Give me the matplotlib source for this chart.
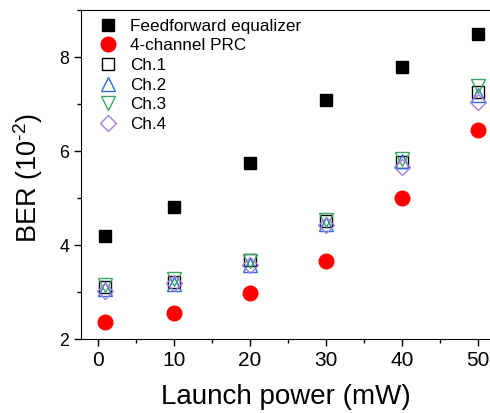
import matplotlib
matplotlib.use("Agg")
import matplotlib.pyplot as plt
from matplotlib.ticker import MultipleLocator

plt.rcParams['font.family'] = ['Liberation Sans', 'DejaVu Sans']
plt.rcParams['mathtext.fontset'] = 'custom'
plt.rcParams['mathtext.rm'] = 'Liberation Sans'

# ---------------- DATA ----------------
power = [1, 10, 20, 30, 40, 50]
ffe = [4.19, 4.80, 5.74, 7.08, 7.79, 8.48]
prc = [2.36, 2.56, 2.97, 3.66, 5.01, 6.45]
ch1 = [3.10, 3.22, 3.68, 4.52, 5.77, 7.26]
ch2 = [3.07, 3.18, 3.57, 4.45, 5.78, 7.20]
ch3 = [3.15, 3.28, 3.65, 4.53, 5.82, 7.38]
ch4 = [3.03, 3.20, 3.58, 4.42, 5.65, 7.05]

# ---------------- PLOT ----------------
fig = plt.figure(figsize=(4.9, 4.13), dpi=100)
ax = fig.add_axes([81 / 490, 1 - 339 / 413, 1 - 81 / 490, (339 - 10) / 413])

ax.plot(power, ffe, 's', color='black', ms=9, label='Feedforward equalizer')
ax.plot(power, prc, 'o', color='#ff0000', ms=10.5, label='4-channel PRC')
ax.plot(power, ch1, 's', mfc='none', mec='black', ms=9, mew=1, label='Ch.1')
ax.plot(power, ch2, '^', mfc='none', mec='#2a6fdb', ms=10.5, mew=1, label='Ch.2')
ax.plot(power, ch3, 'v', mfc='none', mec='#3aa860', ms=10.5, mew=1, label='Ch.3')
ax.plot(power, ch4, 'D', mfc='none', mec='#a77ee0', ms=8.5, mew=1, label='Ch.4')

ax.set_xlim(-2.2, 51.6)
ax.set_ylim(2, 9)
ax.xaxis.set_major_locator(MultipleLocator(10))
ax.xaxis.set_minor_locator(MultipleLocator(5))
ax.yaxis.set_major_locator(MultipleLocator(2))
ax.yaxis.set_minor_locator(MultipleLocator(1))
ax.tick_params(which='both', direction='out', top=False, right=False)
ax.tick_params(axis='x', labelsize=15)
ax.tick_params(axis='y', labelsize=12.8)
ax.tick_params(which='major', length=5, width=1)
ax.tick_params(which='minor', length=3, width=1)
ax.spines['right'].set_visible(False)

ax.set_xlabel('Launch power (mW)', fontsize=20, labelpad=10)
ax.set_ylabel(r'BER (10$^{\text{-2}}$)', fontsize=19.5)
ax.yaxis.set_label_coords(-0.088, 0.49)

ax.legend(loc='upper left', bbox_to_anchor=(0.0, 1.02), frameon=False,
          fontsize=12.3, handletextpad=0.55, labelspacing=0.27,
          borderaxespad=0.5, handlelength=1.4)

plt.savefig("out.png", dpi=100)
